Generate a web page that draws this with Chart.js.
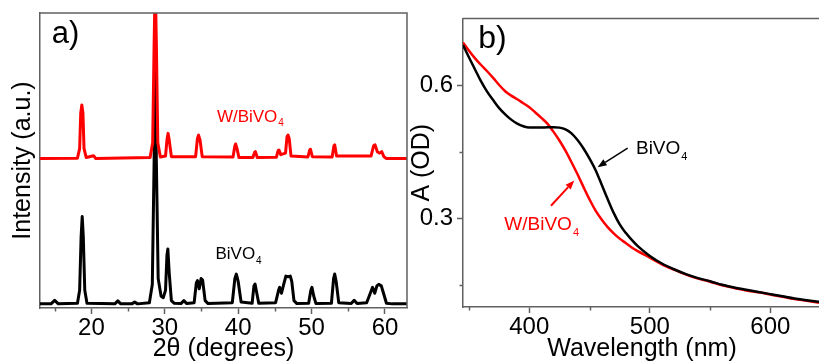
<!DOCTYPE html>
<html lang="en">
<head>
<meta charset="UTF-8" />
<title>BiVO4 and W/BiVO4: XRD and absorbance</title>
<script src="https://cdn.jsdelivr.net/npm/chart.js"></script>
<style>
  html, body { margin: 0; padding: 0; background: #fff; overflow: hidden; }
  body { width: 819px; height: 364px; position: relative; }
  .panel { position: absolute; top: 0; }
  #xrdChart { left: 0; }
  #absChart { left: 400px; }
</style>
</head>
<body>
<canvas id="xrdChart" class="panel" width="420" height="364"></canvas>
<canvas id="absChart" class="panel" width="425" height="364"></canvas>

<script>
  // a) XRD patterns, 2theta (deg) vs intensity (a.u., offset traces)
  const thetaBiVO4 = [13, 14.5, 15.0, 15.5, 18.1, 18.4, 18.6, 18.75, 18.9, 19.1, 19.4, 23.2, 23.6, 24.0, 25.5, 25.9, 26.3,
    27.9, 28.3, 28.55, 28.7, 28.85, 29.1, 29.5, 29.8, 30.1, 30.3, 30.42, 30.6, 30.9, 31.3, 32.2, 32.6, 33.0,
    34.0, 34.3, 34.45, 34.7, 34.95, 35.15, 35.5, 35.9, 39.2, 39.55, 39.75, 40.0, 40.4, 41.9, 42.15, 42.3, 42.5, 42.8,
    45.1, 45.5, 45.65, 45.9, 46.2, 46.5, 46.8, 47.1, 47.3, 47.6, 48.0, 49.6, 49.9, 50.05, 50.3, 50.6,
    52.7, 53.0, 53.15, 53.35, 53.7, 55.4, 55.8, 56.2, 57.5, 58.0, 58.3, 58.6, 58.9, 59.15, 59.5, 59.8, 60.2, 61, 63];
  const intBiVO4 = [1.4, 1.4, 2.6, 1.4, 1.6, 6, 24, 31, 24, 6, 1.6, 1.4, 2.4, 1.4, 1.4, 2.0, 1.4,
    1.8, 8, 50, 100, 50, 10, 4, 3.5, 6, 18, 20, 12, 2.5, 1.6, 1.5, 2.5, 1.5,
    1.8, 8.5, 9.3, 6.5, 10, 9.5, 2.5, 1.5, 1.8, 10, 11.5, 9, 2, 1.6, 7.5, 8.1, 5.5, 1.6,
    1.8, 6, 7, 5, 8, 10.8, 10.6, 10.8, 9, 2.5, 1.5, 1.6, 6, 7, 4, 1.5,
    1.6, 10, 11.5, 9, 1.8, 1.5, 2.6, 1.5, 1.8, 5, 7, 5, 7.5, 8, 7.5, 5, 1.6, 1.4, 1.4];

  const thetaW = [13, 18.1, 18.4, 18.55, 18.7, 18.85, 19.0, 19.3, 20.3, 20.6, 28.0, 28.35, 28.55, 28.7, 28.85, 29.05, 29.4,
    30.1, 30.3, 30.45, 30.6, 30.9, 34.2, 34.45, 34.6, 34.8, 35.1, 39.3, 39.55, 39.65, 39.85, 40.1,
    42.0, 42.25, 42.35, 42.6, 45.2, 45.45, 45.55, 45.8, 46.45, 46.65, 46.8, 46.95, 47.2,
    49.5, 49.75, 49.85, 50.1, 52.8, 53.05, 53.15, 53.4, 58.1, 58.45, 58.65, 58.95, 59.25, 59.55, 59.85, 60.2, 63];
  const intW = [50.7, 50.8, 54, 66, 68.8, 66, 54, 51, 51.6, 50.7, 51, 56, 90, 110, 90, 56, 51.2,
    51.5, 57, 59.2, 57, 51.3, 51.3, 57.5, 58.6, 57, 51.3, 51.2, 55, 55.6, 54, 51,
    51, 52.8, 53, 51, 51.1, 53.4, 53.6, 52, 52.5, 58, 58.6, 57.5, 51.5,
    51.2, 53.6, 53.8, 51.3, 51.2, 55, 55.3, 51.5, 51.5, 55, 55.3, 53, 52.5, 53, 51.3, 50.7, 50.7];

  const thetaTicks = [20, 30, 40, 50, 60];
  const thetaMinor = [15, 25, 35, 45, 55];

  // b) UV-vis absorbance, wavelength (nm) vs A (OD)
  const wavelength = [345, 350, 355, 360, 365, 370, 375, 380, 385, 390, 395, 400, 405, 410, 415, 420, 425, 430, 435,
    440, 445, 450, 455, 460, 465, 470, 475, 480, 485, 490, 500, 510, 520, 530, 540, 550, 560, 570, 580,
    590, 600, 610, 620, 630, 642];
  const absBiVO4 = [0.690, 0.662, 0.635, 0.608, 0.585, 0.566, 0.548, 0.534, 0.522, 0.513, 0.507, 0.504, 0.504, 0.504,
    0.505, 0.505, 0.504, 0.500, 0.491, 0.476, 0.457, 0.434, 0.408, 0.376, 0.343, 0.312, 0.286, 0.267, 0.251,
    0.237, 0.215, 0.198, 0.185, 0.174, 0.165, 0.158, 0.150, 0.144, 0.139, 0.134, 0.129, 0.124, 0.119, 0.115, 0.111];
  const absW = [0.696, 0.677, 0.660, 0.645, 0.631, 0.616, 0.600, 0.586, 0.576, 0.568, 0.559, 0.550, 0.538, 0.526,
    0.513, 0.495, 0.475, 0.452, 0.426, 0.399, 0.370, 0.342, 0.317, 0.297, 0.280, 0.266, 0.254, 0.244, 0.234,
    0.226, 0.211, 0.196, 0.184, 0.173, 0.164, 0.157, 0.149, 0.143, 0.137, 0.133, 0.128, 0.123, 0.118, 0.114, 0.109];

  const wlTicks = [400, 500, 600];
  const wlMinor = [350, 450, 550];
  const absTicks = [0.3, 0.6];
  const absMinor = [0.15, 0.45];

  const FONT = "'Liberation Sans', Arial, sans-serif";
  const GREY = '#606060';
  const RED = '#ff0000';

  function pairs(xs, ys) {
    return xs.map((x, i) => ({ x: x, y: ys[i] }));
  }

  function drawFormula(ctx, x, y, main, sub, size, subSize, drop, color) {
    ctx.fillStyle = color;
    ctx.textAlign = 'left';
    ctx.textBaseline = 'alphabetic';
    ctx.font = size + 'px ' + FONT;
    ctx.fillText(main, x, y);
    if (sub) {
      const w = ctx.measureText(main).width;
      ctx.font = subSize + 'px ' + FONT;
      ctx.fillText(sub, x + w + 1, y + drop);
    }
  }

  function drawArrow(ctx, x1, y1, x2, y2, color, width) {
    const ang = Math.atan2(y2 - y1, x2 - x1);
    const len = 9, half = 3.5;
    const bx = x2 - len * Math.cos(ang), by = y2 - len * Math.sin(ang);
    ctx.strokeStyle = color;
    ctx.fillStyle = color;
    ctx.lineWidth = width;
    ctx.beginPath();
    ctx.moveTo(x1, y1);
    ctx.lineTo(bx, by);
    ctx.stroke();
    ctx.beginPath();
    ctx.moveTo(x2, y2);
    ctx.lineTo(bx + half * Math.sin(ang), by - half * Math.cos(ang));
    ctx.lineTo(bx - half * Math.sin(ang), by + half * Math.cos(ang));
    ctx.closePath();
    ctx.fill();
  }

  // top/right frame, short minor ticks, panel letter and trace labels
  const decorPlugin = {
    id: 'decor',
    afterDraw(chart, args, opts) {
      const { ctx, chartArea: a, scales } = chart;
      const xs = scales.x, ys = scales.y;
      ctx.save();
      ctx.strokeStyle = GREY;
      ctx.lineWidth = 1.5;
      ctx.beginPath();
      ctx.moveTo(a.left, a.top);
      ctx.lineTo(a.right, a.top);
      ctx.lineTo(a.right, a.bottom);
      (opts.minorX || []).forEach(v => {
        const px = Math.round(xs.getPixelForValue(v)) + 0.5;
        ctx.moveTo(px, a.bottom);
        ctx.lineTo(px, a.bottom + 3.5);
      });
      (opts.minorY || []).forEach(v => {
        const py = Math.round(ys.getPixelForValue(v)) + 0.5;
        ctx.moveTo(a.left, py);
        ctx.lineTo(a.left - 3.5, py);
      });
      ctx.stroke();

      if (opts.letter) {
        const L = opts.letter;
        ctx.fillStyle = '#000';
        ctx.font = L.size + 'px ' + FONT;
        ctx.textAlign = 'left';
        ctx.textBaseline = 'alphabetic';
        ctx.fillText(L.text, xs.getPixelForValue(L.x), ys.getPixelForValue(L.y));
      }
      (opts.arrows || []).forEach(r => {
        drawArrow(ctx, xs.getPixelForValue(r.x1), ys.getPixelForValue(r.y1),
          xs.getPixelForValue(r.x2), ys.getPixelForValue(r.y2), r.color, r.width);
      });
      (opts.labels || []).forEach(l => {
        drawFormula(ctx, xs.getPixelForValue(l.x), ys.getPixelForValue(l.y),
          l.text, l.sub, l.size, l.subSize, l.drop, l.color);
      });
      ctx.restore();
    }
  };

  function axisBase() {
    return {
      type: 'linear',
      grid: { display: true, drawOnChartArea: false, drawTicks: true, tickLength: 6, tickColor: GREY, tickWidth: 1.5 },
      border: { display: true, color: GREY, width: 1.5 },
      ticks: { color: '#000', font: { family: FONT, size: 24 }, padding: 0, maxRotation: 0, autoSkip: false },
      title: { display: true, color: '#000', font: { family: FONT, size: 25 }, padding: 0 }
    };
  }

  // ---- a) XRD ----
  const xrdX = axisBase();
  Object.assign(xrdX, {
    min: 13, max: 63,
    afterBuildTicks: s => { s.ticks = thetaTicks.map(v => ({ value: v })); },
    afterFit: s => { s.height = 56; }
  });
  xrdX.title.text = '2θ (degrees)';

  const xrdY = axisBase();
  Object.assign(xrdY, {
    min: 0, max: 100,
    afterFit: s => { s.width = 40; }
  });
  xrdY.grid = { display: false };
  xrdY.ticks = { display: false };
  xrdY.title.text = 'Intensity (a.u.)';
  xrdY.title.padding = { top: 8, bottom: 0 };

  new Chart(document.getElementById('xrdChart'), {
    type: 'line',
    data: {
      datasets: [
        { label: 'W/BiVO4', data: pairs(thetaW, intW), borderColor: RED, borderWidth: 3 },
        { label: 'BiVO4', data: pairs(thetaBiVO4, intBiVO4), borderColor: '#000', borderWidth: 3 }
      ]
    },
    options: {
      responsive: false,
      animation: false,
      layout: { padding: { left: 0, top: 13, right: 13, bottom: 0 } },
      elements: { point: { radius: 0 }, line: { tension: 0, borderJoinStyle: 'round' } },
      scales: { x: xrdX, y: xrdY },
      plugins: {
        legend: { display: false },
        tooltip: { enabled: false },
        decor: {
          minorX: thetaMinor,
          letter: { text: 'a)', x: 14.6, y: 89.9, size: 31 },
          labels: [
            { text: 'W/BiVO', sub: '4', x: 37.1, y: 62.9, size: 17, subSize: 10, drop: 4, color: RED },
            { text: 'BiVO', sub: '4', x: 36.9, y: 16.7, size: 17, subSize: 10, drop: 5, color: '#000' }
          ]
        }
      }
    },
    plugins: [decorPlugin]
  });

  // ---- b) absorbance ----
  const absX = axisBase();
  Object.assign(absX, {
    min: 345, max: 642,
    afterBuildTicks: s => { s.ticks = wlTicks.map(v => ({ value: v })); },
    afterFit: s => { s.height = 57; }
  });
  absX.title.text = 'Wavelength (nm)';

  const absY = axisBase();
  Object.assign(absY, {
    min: 0.1, max: 0.75,
    afterBuildTicks: s => { s.ticks = absTicks.map(v => ({ value: v })); },
    afterFit: s => { s.width = 63; }
  });
  absY.ticks.callback = v => v.toFixed(1);
  absY.ticks.padding = 4;
  absY.title.text = 'A (OD)';
  absY.title.padding = { top: 7, bottom: 0 };

  new Chart(document.getElementById('absChart'), {
    type: 'line',
    data: {
      datasets: [
        { label: 'BiVO4', data: pairs(wavelength, absBiVO4), borderColor: '#000', borderWidth: 2.5 },
        { label: 'W/BiVO4', data: pairs(wavelength, absW), borderColor: RED, borderWidth: 2.5 }
      ]
    },
    options: {
      responsive: false,
      animation: false,
      layout: { padding: { left: 0, top: 13, right: 4, bottom: 0 } },
      elements: { point: { radius: 0 }, line: { tension: 0.3, cubicInterpolationMode: 'monotone' } },
      scales: { x: absX, y: absY },
      plugins: {
        legend: { display: false },
        tooltip: { enabled: false },
        decor: {
          minorX: wlMinor,
          minorY: absMinor,
          letter: { text: 'b)', x: 357.7, y: 0.684, size: 32 },
          arrows: [
            { x1: 481.6, y1: 0.458, x2: 456.7, y2: 0.415, color: '#000', width: 1.5 },
            { x1: 418, y1: 0.328, x2: 437.3, y2: 0.385, color: RED, width: 2 }
          ],
          labels: [
            { text: 'BiVO', sub: '4', x: 488.5, y: 0.445, size: 19, subSize: 11, drop: 6, color: '#000' },
            { text: 'W/BiVO', sub: '4', x: 379.3, y: 0.274, size: 19, subSize: 11, drop: 6, color: RED }
          ]
        }
      }
    },
    plugins: [decorPlugin]
  });
</script>
</body>
</html>
